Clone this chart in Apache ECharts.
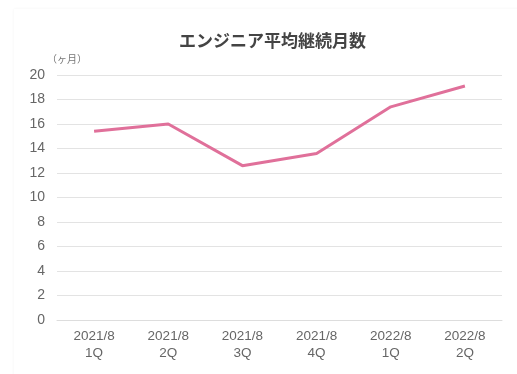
<!DOCTYPE html>
<html><head><meta charset="utf-8">
<script src="https://cdn.jsdelivr.net/npm/echarts@6/dist/echarts.min.js"></script>
<style>
html,body{margin:0;padding:0;background:#fff;}
#card{position:absolute;left:14px;top:9px;width:510px;height:370px;background:#fff;box-shadow:0 0 3px rgba(0,0,0,0.05);}
#c{position:absolute;left:0;top:0;width:517px;height:374px;}
</style></head>
<body>
<div id="card"></div>
<div id="c"></div>
<script>
const categories = ['2021/8\n1Q','2021/8\n2Q','2021/8\n3Q','2021/8\n4Q','2022/8\n1Q','2022/8\n2Q'];
const values = [15.4, 16.0, 12.6, 13.6, 17.4, 19.1];
const chart = echarts.init(document.getElementById('c'));
chart.setOption({
  animation:false,
  title:{text:'エンジニア平均継続月数',left:174,top:27,
    textStyle:{fontSize:17,fontWeight:'bold',color:'#444',fontFamily:'Noto Sans CJK JP'}},
  grid:{left:57,right:15,top:75,bottom:54},
  xAxis:{type:'category',data:categories,boundaryGap:true,
    axisLine:{show:true,lineStyle:{color:'#ddd'}},axisTick:{show:false},
    axisLabel:{color:'#666',fontSize:13.5,lineHeight:17,margin:8,fontFamily:'Liberation Sans'}},
  yAxis:{type:'value',min:0,max:20,interval:2,name:'（ヶ月）',
    nameTextStyle:{color:'#777',fontSize:10,align:'left',padding:[0,0,0,-10],fontFamily:'Noto Sans CJK JP'},
    nameGap:11,
    axisLine:{show:false},axisTick:{show:false},
    axisLabel:{color:'#666',fontSize:14,margin:12,fontFamily:'Liberation Sans'},
    splitLine:{lineStyle:{color:'#e3e3e3'}}},
  series:[{type:'line',data:values,symbol:'none',
    lineStyle:{color:'#e0709a',width:3},itemStyle:{color:'#e0709a'}}]
});
</script>
</body></html>
